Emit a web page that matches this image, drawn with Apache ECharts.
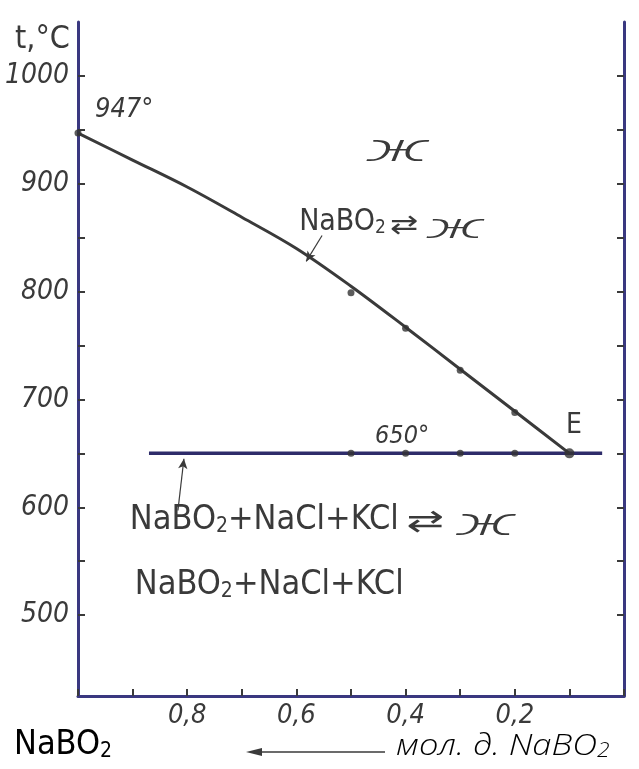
<!DOCTYPE html>
<html><head><meta charset="utf-8">
<script src="https://cdn.jsdelivr.net/npm/echarts@6/dist/echarts.min.js"></script>
<style>html,body{margin:0;background:#fff}#c{width:639px;height:769px}</style>
</head><body><div id="c"></div>
<script>
// Section of the NaBO2 – NaCl – KCl system: x = mole fraction of NaBO2, y = temperature, °C
const liquidusCurve = [[1.0,947],[0.9,922],[0.8,897],[0.7,869],[0.6,840],[0.5,805],[0.4,767],[0.3,728],[0.2,689],[0.1,650]];
const liquidusPoints = [[1.0,947],[0.5,799],[0.4,766],[0.3,727],[0.2,688]];
const eutecticLine = [[0.87,650],[0.04,650]];
const eutecticPoints = [[0.5,650],[0.4,650],[0.3,650],[0.2,650]];
const eutecticE = [[0.1,650]];
const yTickValues = [500,550,600,650,700,750,800,850,900,950,1000];
const yLabelValues = [500,600,700,800,900,1000];
const xLabelValues = [0.2,0.4,0.6,0.8];

const INK = '#3a3a3a';
const AXIS = '#3a3880';
const FONT = "'DejaVu Sans Condensed','Liberation Sans',sans-serif";
const SCRIPT = "'Open Sans','Noto Sans','DejaVu Sans',sans-serif";

const chart = echarts.init(document.getElementById('c'), null, {renderer: 'canvas'});

const yAxisBase = {
  type: 'value', min: 425, max: 1050,
  axisLine: {show: true, onZero: false, lineStyle: {color: AXIS, width: 3}},
  axisTick: {show: true, inside: true, length: 7, customValues: yTickValues, lineStyle: {color: INK, width: 2}},
  splitLine: {show: false}
};

chart.setOption({
  animation: false,
  backgroundColor: '#fff',
  grid: {left: 78, right: 15, top: 22, bottom: 73, containLabel: false, outerBoundsMode: 'none'},
  xAxis: {
    type: 'value', min: 0, max: 1, interval: 0.1, inverse: true,
    axisLine: {show: true, onZero: false, lineStyle: {color: AXIS, width: 3}},
    axisTick: {show: true, inside: true, length: 7, lineStyle: {color: INK, width: 2}},
    splitLine: {show: false},
    axisLabel: {
      customValues: xLabelValues, margin: 6,
      fontFamily: FONT, fontSize: 27, fontStyle: 'italic', color: INK,
      formatter: v => v.toFixed(1).replace('.', ',')
    }
  },
  yAxis: [
    Object.assign({}, yAxisBase, {
      position: 'left',
      axisLabel: {customValues: yLabelValues, margin: 9, fontFamily: FONT, fontSize: 28,
        fontStyle: 'italic', color: INK, padding: [14, 0, 0, 0], formatter: v => String(v)}
    }),
    Object.assign({}, yAxisBase, {position: 'right', axisLabel: {show: false}})
  ],
  series: [
    {
      type: 'line', data: liquidusCurve, smooth: 0.35, symbol: 'none',
      lineStyle: {color: INK, width: 3}, z: 3,
      markLine: {
        silent: true, symbol: ['none', 'arrow'], symbolSize: [7, 10],
        label: {show: false},
        lineStyle: {color: INK, width: 1.2, type: 'solid'},
        data: [
          [{coord: [0.553, 852]}, {coord: [0.582, 828]}],
          [{coord: [0.817, 597]}, {coord: [0.806, 645]}]
        ]
      }
    },
    {
      type: 'line', data: eutecticLine, symbol: 'none',
      lineStyle: {color: '#2e2c6a', width: 3.5}, z: 2
    },
    {
      type: 'scatter', data: liquidusPoints.concat(eutecticPoints), symbolSize: 7,
      itemStyle: {color: '#333'}, z: 4
    },
    {
      type: 'scatter', data: eutecticE, symbolSize: 10,
      itemStyle: {color: '#333'}, z: 4
    }
  ]
});

// annotation texts placed in data coordinates
const toPx = p => chart.convertToPixel({gridIndex: 0}, p);
const rich = (size) => ({
  n: {fontFamily: FONT, fontSize: size, color: INK},
  s: {fontFamily: FONT, fontSize: Math.round(size * 0.62), color: INK, verticalAlign: 'bottom', lineHeight: Math.round(size * 0.62)}
});
function textAt(pos, text, size, opts, sx) {
  const p = toPx(pos);
  return {
    type: 'text', x: p[0], y: p[1], scaleX: sx || 1,
    style: Object.assign({text: text, fontFamily: FONT, fontSize: size, fill: INK,
      verticalAlign: 'middle', align: 'left', rich: rich(size)}, opts || {})
  };
}
// liquid phase sign "ж"
const zh = (pos, size, sx) => textAt(pos, 'ж', size, {fontFamily: SCRIPT, fontStyle: 'italic', fontWeight: 300}, sx);
const eq = (pos, size, sx) => textAt(pos, '⇄', size, {fontFamily: 'DejaVu Sans'}, sx);

const arrowY = 752;
chart.setOption({
  graphic: [
    textAt([0.969, 968], '947°', 27, {fontStyle: 'italic'}),
    zh([0.47, 931], 38, 2.1),
    textAt([0.595, 864], '{n|NaBO}{s|2}', 30),
    eq([0.428, 861], 26, 1.3),
    zh([0.36, 859], 35, 2.1),
    textAt([0.456, 666], '650°', 25, {fontStyle: 'italic'}),
    textAt([0.106, 676], 'E', 28),
    textAt([0.905, 588], '{n|NaBO}{s|2}{n|+NaCl+KCl}', 34),
    eq([0.398, 585], 30, 1.5),
    zh([0.306, 584], 38, 2.0),
    textAt([0.896, 528], '{n|NaBO}{s|2}{n|+NaCl+KCl}', 34),
    {type: 'text', x: 15, y: 40, style: {text: 't,°C', fontFamily: FONT, fontSize: 32, fill: INK, verticalAlign: 'middle'}},
    {type: 'text', x: 14, y: 745, style: {text: '{n|NaBO}{s|2}', rich: rich(34), verticalAlign: 'middle'}},
    {type: 'text', x: 396, y: 746, scaleX: 1.15, style: {text: '{i|мол. д. NaBO}{is|2}', verticalAlign: 'middle',
      rich: {
        i: {fontFamily: SCRIPT, fontStyle: 'italic', fontWeight: 300, fontSize: 30, color: INK},
        is: {fontFamily: SCRIPT, fontStyle: 'italic', fontWeight: 300, fontSize: 20, color: INK, verticalAlign: 'bottom', lineHeight: 20}
      }}},
    {type: 'line', shape: {x1: 385, y1: arrowY, x2: 252, y2: arrowY}, style: {stroke: INK, lineWidth: 1.6}},
    {type: 'polygon', shape: {points: [[246, arrowY], [262, arrowY - 4], [262, arrowY + 4]]}, style: {fill: INK}}
  ]
});
</script></body></html>
